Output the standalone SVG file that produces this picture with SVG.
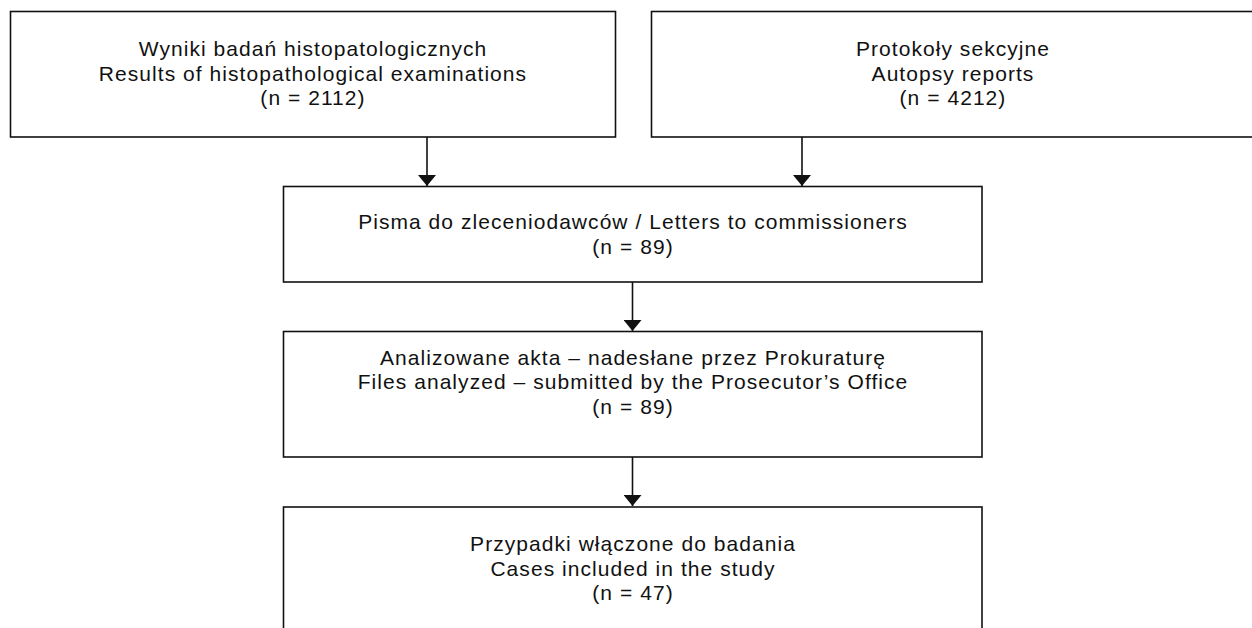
<svg xmlns="http://www.w3.org/2000/svg" width="1252" height="628" viewBox="0 0 1252 628">
<style>
.box{fill:#fff;stroke:#111;stroke-width:1.6}
.t{font-family:"Liberation Sans",Arial,sans-serif;font-size:21px;letter-spacing:1.05px;fill:#111;text-anchor:middle}
.c{stroke:#111;stroke-width:1.6;fill:none}
</style>
<defs>
<marker id="ah" markerUnits="userSpaceOnUse" markerWidth="11" markerHeight="18" viewBox="0 0 11 18" refX="11" refY="9" orient="auto">
<path d="M0,0 L11,9 L0,18 Z" fill="#111"/>
</marker>
</defs>
<rect width="1252" height="628" fill="#fff"/>
<g id="connectors">
<line class="c" x1="427" y1="137" x2="427" y2="186" marker-end="url(#ah)"/>
<line class="c" x1="802" y1="137" x2="802" y2="186" marker-end="url(#ah)"/>
<line class="c" x1="632.5" y1="282" x2="632.5" y2="331" marker-end="url(#ah)"/>
<line class="c" x1="632.5" y1="457" x2="632.5" y2="506" marker-end="url(#ah)"/>
</g>
<g id="n1">
<rect class="box" x="10.5" y="11.5" width="605" height="125.5"/>
<text class="t" x="313" y="56">Wyniki badań histopatologicznych</text>
<text class="t" x="313" y="80.5">Results of histopathological examinations</text>
<text class="t" x="313" y="105">(n = 2112)</text>
</g>
<g id="n2">
<rect class="box" x="651.5" y="11.5" width="605" height="125.5"/>
<text class="t" x="953" y="56">Protokoły sekcyjne</text>
<text class="t" x="953" y="80.5">Autopsy reports</text>
<text class="t" x="953" y="105">(n = 4212)</text>
</g>
<g id="n3">
<rect class="box" x="283.5" y="186.5" width="698.5" height="95.5"/>
<text class="t" x="633" y="229">Pisma do zleceniodawców / Letters to commissioners</text>
<text class="t" x="633" y="253.5">(n = 89)</text>
</g>
<g id="n4">
<rect class="box" x="283.5" y="331.5" width="698.5" height="125.5"/>
<text class="t" x="633" y="364.5">Analizowane akta – nadesłane przez Prokuraturę</text>
<text class="t" x="633" y="389">Files analyzed – submitted by the Prosecutor’s Office</text>
<text class="t" x="633" y="413.5">(n = 89)</text>
</g>
<g id="n5">
<rect class="box" x="283.5" y="507" width="698.5" height="140"/>
<text class="t" x="633" y="551">Przypadki włączone do badania</text>
<text class="t" x="633" y="575.5">Cases included in the study</text>
<text class="t" x="633" y="600">(n = 47)</text>
</g>
</svg>
